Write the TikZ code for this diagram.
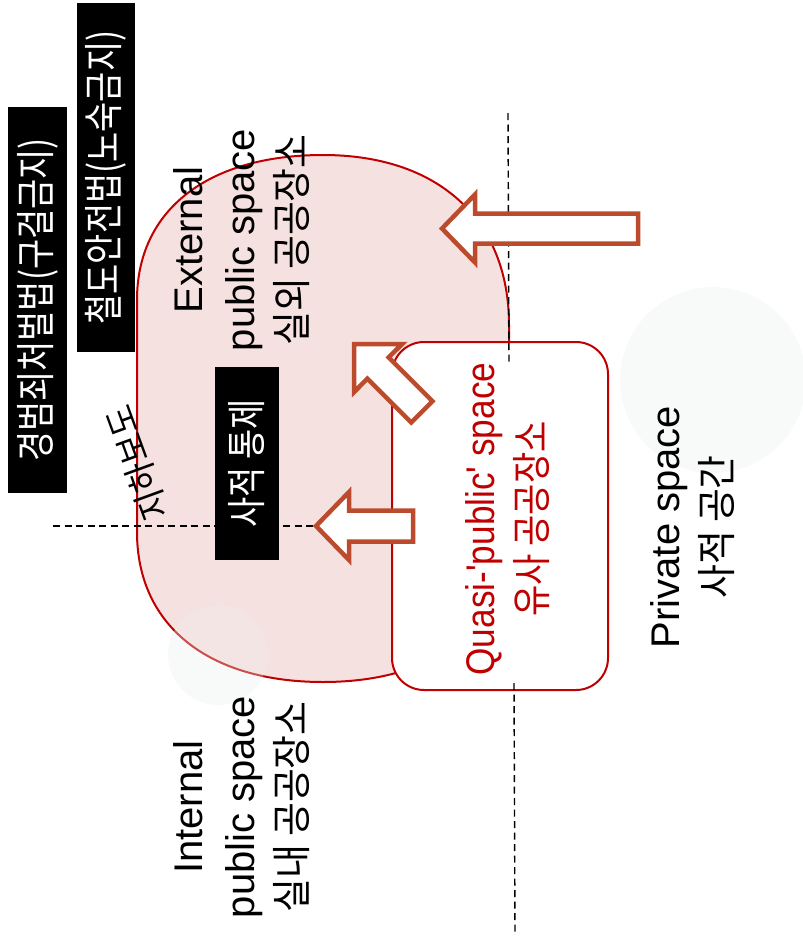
\documentclass[tikz,border=0pt]{standalone}
\usepackage{fontspec}
\setmainfont{Liberation Sans}
\newfontfamily\kr[FakeStretch=0.92]{Noto Sans CJK KR}
\newfontfamily\krc[FakeStretch=0.82]{Noto Sans CJK KR}
\newfontfamily\krq[FakeStretch=0.85]{Noto Sans CJK KR}
\newfontfamily\lsc[FakeStretch=0.88]{Liberation Sans}
\definecolor{darkred}{RGB}{192,0,0}
\definecolor{pinkfill}{RGB}{246,225,225}
\definecolor{arrowc}{RGB}{188,75,45}
\definecolor{ghostc}{RGB}{234,240,236}
\tikzset{
  pinkshape/.style={fill=pinkfill, draw=darkred, line width=2pt},
  ghost/.style={fill=ghostc, opacity=0.32},
  quasibox/.style={draw=darkred, fill=white, line width=2pt, rounded corners=32pt,
    minimum width=216pt, minimum height=348pt, inner sep=0pt},
  dashline/.style={draw=black, line width=1.4pt, dash pattern=on 7pt off 4.5pt},
  blockarrow/.style={draw=arrowc, fill=white, line width=4.5pt, line join=miter},
  lbl/.style={rotate=90, align=center, inner sep=0pt, font=\fontsize{40}{52}\selectfont},
  blackbox/.style={rotate=90, fill=black, text=white, inner sep=0pt,
    font=\fontsize{40}{48}\selectfont\krc},
}
\begin{document}
\begin{tikzpicture}[x=1pt,y=-1pt]
\useasboundingbox (0,0) rectangle (803,937);
% big pink public-space shape
\path[pinkshape] (137,300) .. controls (137,210.1) and (207.7,155) .. (323,155)
  .. controls (438.3,155) and (509,219.6) .. (509,325) -- (509,532)
  .. controls (509,625) and (438.3,682) .. (323,682)
  .. controls (207.7,682) and (137,625) .. (137,532) -- cycle;
% faint circles
\fill[ghost] (713,380) circle[radius=93];
\fill[ghost] (218,655) circle[radius=50];
% quasi-public box
\node[quasibox] (qbox) at (500,516) {};
% dashed lines
\coordinate (d1a) at (508,113); \coordinate (d1b) at (509,365);
\coordinate (d2a) at (514,683); \coordinate (d2b) at (515,935);
\coordinate (d3a) at (53,526);  \coordinate (a3tip) at (316,526);
\draw[dashline] (d1a) -- (d1b);
\draw[dashline] (d2a) -- (d2b);
\draw[dashline] (d3a) -- (a3tip);
% block arrows
\draw[blockarrow] (442,228.5) -- (475,194.5) -- (475,213.5) -- (638,213.5)
  -- (638,243.5) -- (475,243.5) -- (475,262.5) -- cycle;
\draw[blockarrow] (354,344) -- (402.1,344) -- (388.6,357.4) -- (432.5,401.3)
  -- (411.3,422.5) -- (367.4,378.6) -- (354,392.1) -- cycle;
\draw[blockarrow] (a3tip) -- (349,492) -- (349,510.5) -- (413,510.5)
  -- (413,541.5) -- (349,541.5) -- (349,560) -- cycle;
% black law boxes
\node[blackbox, minimum width=386pt, minimum height=59pt] (law1) at (37.5,300) {경범죄처벌법(구걸금지)};
\node[blackbox, minimum width=349pt, minimum height=58pt] (law2) at (106,177.5) {철도안전법(노숙금지)};
\node[blackbox, minimum width=193pt, minimum height=64pt] (ctrl) at (247,463.5) {사적 통제};
% labels
\node[lbl] (ext) at (241.5,240) {External\\public space\\{\kr 실외 공공장소}};
\node[lbl] (int) at (241.5,807) {Internal\\public space\\{\kr 실내 공공장소}};
\node[lbl, text=darkred] (qtxt) at (508,519) {{\lsc Quasi-'public' space}\\{\krq 유사 공공장소}};
\node[lbl] (priv) at (693,527) {Private space\\{\kr 사적 공간}};
\node[rotate=110, inner sep=0pt, font=\fontsize{35}{40}\selectfont\kr] (under) at (137,463) {지하보도};
\end{tikzpicture}
\end{document}
